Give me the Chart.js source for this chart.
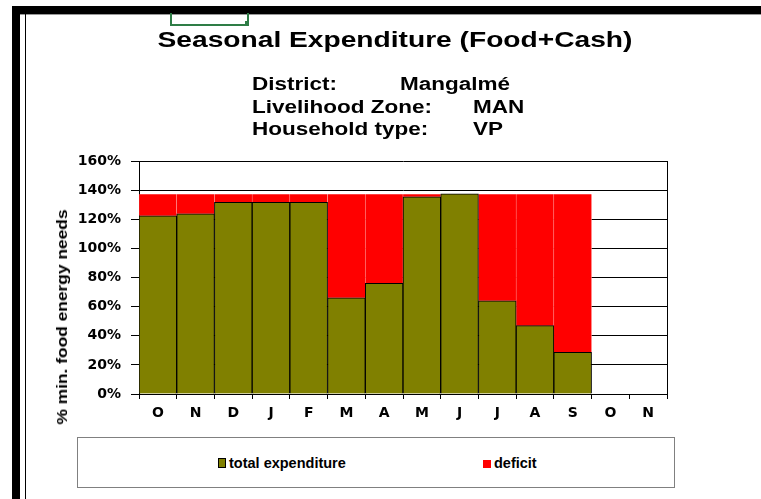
<!DOCTYPE html>
<html><head><meta charset="utf-8">
<script src="https://cdn.jsdelivr.net/npm/chart.js@4/dist/chart.umd.min.js"></script>
<style>
html,body{margin:0;padding:0;background:#fff;width:761px;height:499px;overflow:hidden;position:relative;font-family:"Liberation Sans",Arial,sans-serif;}
.abs{position:absolute;}
#chartWrap{position:absolute;left:0;top:0;width:761px;height:499px;}
.t{position:absolute;font-weight:bold;color:#000;white-space:nowrap;line-height:1;}
#legend{position:absolute;left:77px;top:437px;width:596px;height:49px;border:1px solid #808080;background:#fff;}
.li{position:absolute;top:18px;font-weight:bold;font-size:14.5px;line-height:14px;white-space:nowrap;color:#000;}
.li i{display:inline-block;margin-right:3px;vertical-align:0px;}
</style></head><body>
<div id="chartWrap"><canvas id="c" width="761" height="499"></canvas></div>
<!-- sheet frame -->
<div class="abs" style="left:12px;top:6px;width:749px;height:8px;background:#000;box-shadow:0 1px 0 #999"></div>
<div class="abs" style="left:12px;top:6px;width:8px;height:493px;background:#000;"></div>
<div class="abs" style="left:25px;top:14px;width:1px;height:485px;background:#000;"></div>
<div class="abs" style="left:170px;top:13px;width:75px;height:11px;border:2px solid #2e7d46;border-top:none;"></div>
<div class="abs" style="left:245px;top:21px;width:4px;height:4px;background:#2e7d46;"></div>

<div id="title" class="t" style="font-size:22px;left:395px;top:29px;transform:translateX(-50%) scaleX(1.28);transform-origin:center;"></div>
<div id="info"></div>
<div id="ytitle" class="t" style="font-size:14px;left:62px;top:317px;transform:translate(-50%,-50%) rotate(-90deg) scaleX(1.24);"></div>
<div id="legend"></div>

<script>
const chartTitle = 'Seasonal Expenditure (Food+Cash)';
const infoLabels = ['District:', 'Livelihood Zone:', 'Household type:'];
const infoValues = ['Mangalmé', 'MAN', 'VP'];
const yAxisTitle = '% min. food energy needs';
const categories = ['O','N','D','J','F','M','A','M','J','J','A','S','O','N'];
const seriesNames = ['total expenditure', 'deficit'];
const totalExpenditure = [122.4, 123.7, 131.6, 131.6, 131.6, 66.1, 76.0, 135.4, 137.5, 64.0, 46.9, 28.6, null, null];
const deficit = [14.7, 13.4, 5.5, 5.5, 5.5, 71.0, 61.1, 1.7, 0, 73.1, 90.2, 108.5, null, null];
const yMin = 0, yMax = 160, yStep = 20;
const seriesColors = ['#808000', '#ff0000'];

document.getElementById('title').textContent = chartTitle;
document.getElementById('ytitle').textContent = yAxisTitle;
const infoEl = document.getElementById('info');
const infoTops = [75.2, 97.7, 120.2];
const valueLefts = [400, 473, 473];
infoLabels.forEach((lab, i) => {
  const a = document.createElement('div');
  a.className = 't';
  a.style.cssText = `font-size:18px;left:252px;top:${infoTops[i]}px;transform:scaleX(1.25);transform-origin:left;`;
  a.textContent = lab;
  infoEl.appendChild(a);
  const b = document.createElement('div');
  b.className = 't';
  b.style.cssText = `font-size:18px;left:${valueLefts[i]}px;top:${infoTops[i]}px;transform:scaleX(1.25);transform-origin:left;`;
  b.textContent = infoValues[i];
  infoEl.appendChild(b);
});

const framePlugin = {
  id: 'frame',
  afterDraw(chart) {
    const {ctx, chartArea} = chart;
    ctx.save();
    ctx.strokeStyle = '#000';
    ctx.lineWidth = 1;
    ctx.beginPath();
    const x = Math.round(chartArea.right) + 0.5;
    ctx.moveTo(x, chartArea.top);
    ctx.lineTo(x, chartArea.bottom);
    ctx.stroke();
    ctx.restore();
  }
};

const chart = new Chart(document.getElementById('c'), {
  type: 'bar',
  data: {
    labels: categories,
    datasets: [
      {
        label: seriesNames[0],
        data: totalExpenditure,
        backgroundColor: seriesColors[0],
        borderColor: '#000',
        borderWidth: 1,
        borderSkipped: 'start',
        categoryPercentage: 1,
        barPercentage: 1
      },
      {
        label: seriesNames[1],
        data: deficit,
        backgroundColor: seriesColors[1],
        borderColor: 'rgba(255,200,200,0.8)',
        borderWidth: {left: 0.5, right: 0.5, top: 0, bottom: 0},
        borderSkipped: false,
        categoryPercentage: 1,
        barPercentage: 1
      }
    ]
  },
  options: {
    responsive: false,
    devicePixelRatio: 1,
    animation: false,
    layout: {padding: {top: 161, right: 94, bottom: 75, left: 0}},
    plugins: {
      legend: {display: false},
      title: {display: false},
      tooltip: {enabled: false}
    },
    scales: {
      x: {
        stacked: true,
        offset: true,
        grid: {display: true, drawOnChartArea: false, drawTicks: true, tickLength: 5, color: '#000', offset: true},
        border: {display: true, color: '#000', width: 1},
        ticks: {color: '#000', padding: 6, font: {family: 'DejaVu Sans', weight: 'bold', size: 14}, maxRotation: 0, autoSkip: false},
        afterFit(s) { s.height = 30; }
      },
      y: {
        stacked: true,
        min: yMin, max: yMax,
        grid: {color: '#000', lineWidth: 1, drawTicks: true, tickLength: 8, tickColor: '#000'},
        border: {display: true, color: '#000', width: 1},
        ticks: {stepSize: yStep, color: '#000', padding: 10, font: {family: 'DejaVu Sans', weight: 'bold', size: 14}, callback: v => v + '%'},
        afterFit(s) { s.width = 139; }
      }
    }
  },
  plugins: [framePlugin]
});

// legend from datasets
const legendEl = document.getElementById('legend');
const legendLefts = [140, 405];
chart.data.datasets.forEach((ds, i) => {
  const d = document.createElement('div');
  d.className = 'li';
  d.style.left = legendLefts[i] + 'px';
  const sw = document.createElement('i');
  sw.style.background = ds.backgroundColor;
  if (i === 0) { sw.style.border = '1px solid #000'; sw.style.width = '6px'; sw.style.height = '8px'; }
  else { sw.style.width = '8px'; sw.style.height = '8px'; }
  d.appendChild(sw);
  d.appendChild(document.createTextNode(ds.label));
  legendEl.appendChild(d);
});
</script>
</body></html>
